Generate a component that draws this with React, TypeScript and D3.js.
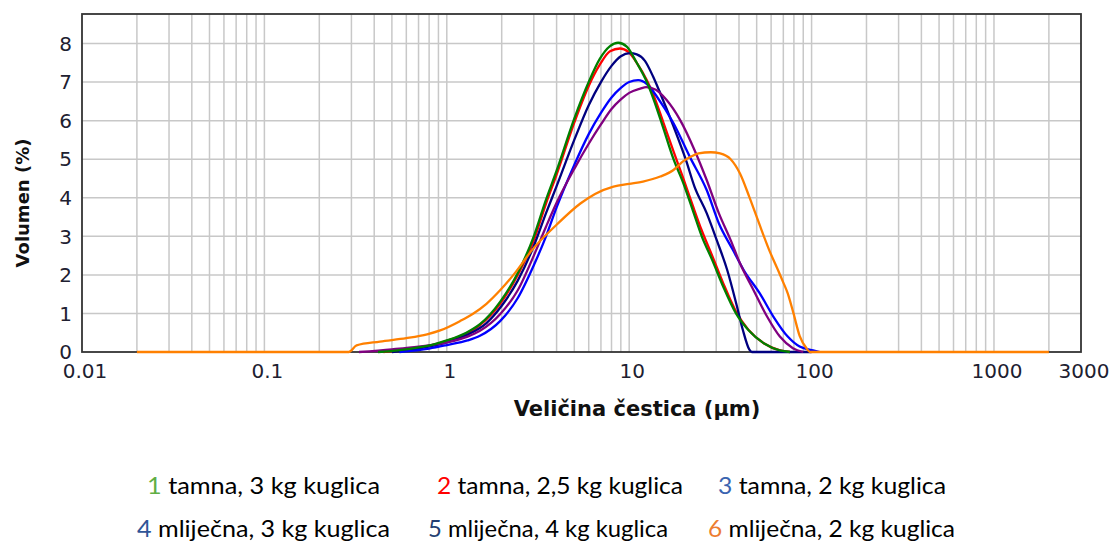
import React from "react";
import * as d3 from "d3";

// ---- data: [particle size (µm), volume (%)] ----
const series1: [number, number][] = [[0.42,0],[0.55,0.05],[0.7,0.12],[0.85,0.2],[1.0,0.3],[1.28,0.5],[1.52,0.72],[1.96,1.3],[2.45,2.05],[3.0,3.0],[3.5,3.95],[4.0,4.7],[5.0,6.05],[6.0,7.0],[6.9,7.6],[7.85,7.93],[8.7,8.02],[9.7,7.92],[11,7.5],[12.5,7.0],[13.5,6.6],[15.4,5.8],[17.5,5.0],[19.8,4.38],[22.3,3.68],[25,3.0],[28.5,2.39],[32.8,1.69],[38.5,1.0],[45,0.57],[55,0.22],[67,0.04],[76,0]];
const series2: [number, number][] = [[0.45,0],[0.55,0.04],[0.7,0.11],[0.85,0.19],[1.0,0.29],[1.28,0.48],[1.52,0.7],[1.96,1.25],[2.45,2.0],[3.0,2.9],[3.5,3.85],[4.0,4.6],[5.0,5.95],[6.0,6.9],[6.9,7.45],[7.85,7.8],[8.9,7.87],[9.9,7.78],[11,7.5],[12.5,7.05],[13.5,6.7],[15.4,5.95],[17.5,5.2],[19.8,4.5],[22.3,3.8],[25,3.15],[28.5,2.5],[32.8,1.78],[38.5,1.05],[45,0.58],[55,0.22],[67,0.04],[76,0]];
const series3: [number, number][] = [[0.5,0],[0.7,0.09],[1.0,0.25],[1.3,0.45],[1.65,0.75],[2.0,1.2],[2.45,1.85],[3.0,2.75],[3.5,3.6],[4.0,4.3],[5.0,5.5],[6.0,6.4],[7,7.0],[8,7.42],[9,7.67],[10.1,7.75],[11,7.72],[12.2,7.55],[13.5,7.15],[14.8,6.71],[17.5,5.85],[20.4,5.0],[22.8,4.29],[26.6,3.6],[30.2,2.9],[34.5,2.12],[39,1.18],[42,0.57],[45.6,0.06],[47,0],[100,0]];
const series4: [number, number][] = [[0.55,0],[0.8,0.09],[1.0,0.18],[1.3,0.3],[1.52,0.42],[1.96,0.8],[2.45,1.4],[3.0,2.25],[3.5,3.0],[4,3.75],[5,4.85],[6,5.65],[7,6.2],[8,6.6],[9,6.85],[10,7.0],[11.2,7.05],[12.5,6.95],[14.2,6.62],[17.5,5.93],[21.5,5.06],[26.6,4.2],[31,3.34],[37,2.65],[42.5,2.12],[52,1.52],[61.7,0.92],[74,0.4],[86,0.14],[102,0.04],[111,0]];
const series5: [number, number][] = [[0.33,0],[0.5,0.07],[0.7,0.14],[1.0,0.25],[1.3,0.4],[1.52,0.55],[1.96,0.98],[2.45,1.6],[3.0,2.5],[3.5,3.25],[4,3.87],[5,4.75],[6,5.4],[7,5.9],[8,6.3],[9,6.55],[10,6.72],[11.5,6.83],[12.4,6.87],[14,6.8],[16,6.54],[19,6.02],[22.8,5.24],[26.6,4.46],[31,3.6],[36,2.9],[40.5,2.3],[48,1.61],[57,0.92],[67,0.4],[79,0.1],[90,0]];
const series6: [number, number][] = [[0.02,0],[0.29,0],[0.32,0.17],[0.43,0.27],[0.6,0.36],[0.78,0.46],[0.92,0.56],[1.18,0.8],[1.4,1.0],[1.65,1.25],[1.96,1.6],[2.32,2.0],[3.0,2.7],[4.0,3.3],[5.4,3.85],[6.5,4.1],[8.2,4.29],[10,4.36],[11.9,4.42],[14.8,4.55],[17.5,4.72],[19.8,4.95],[21.5,5.05],[24,5.15],[28,5.18],[31.5,5.15],[36,5.0],[40.5,4.63],[45.5,4.03],[51.5,3.34],[58.5,2.65],[66.5,2.05],[70,1.8],[74,1.52],[79.4,1.02],[86,0.42],[94,0.09],[98,0],[2000,0]];

const xTicks = [0.01, 0.1, 1, 10, 100, 1000, 3000];
const yTicks = [0, 1, 2, 3, 4, 5, 6, 7, 8];
const lineColors = ["#008000", "#FF0000", "#000080", "#0000FF", "#800080", "#FF8000"];
const legendNums = ["1", "2", "3", "4", "5", "6"];
const legendTexts = [
  " tamna, 3 kg kuglica",
  " tamna, 2,5 kg kuglica",
  " tamna, 2 kg kuglica",
  " mliječna, 3 kg kuglica",
  " mliječna, 4 kg kuglica",
  " mliječna, 2 kg kuglica",
];
const legendNumColors = ["#5FAE45", "#FF0000", "#3A64B0", "#2F5597", "#243F72", "#ED7D31"];

export default function App() {
  const W = 1113, H = 544;
  const left = 82, right = 1081, top = 14, bottom = 352;
  const x = d3.scaleLog().domain([0.01, 3000]).range([left, right]);
  const y = d3.scaleLinear().domain([0, 8]).range([bottom, 43.5]);

  const vGrid: number[] = [];
  for (let dec = 0.01; dec <= 1000; dec *= 10) {
    for (let m = 1; m <= 9; m++) {
      const v = +(m * dec).toPrecision(3);
      if (v > 0.01 && v < 3000) vGrid.push(v);
    }
  }

  const line = d3
    .line<[number, number]>()
    .x((d) => x(d[0]))
    .y((d) => y(d[1]))
    .curve(d3.curveMonotoneX);

  const allSeries = [series1, series2, series3, series4, series5, series6];
  const drawOrder = [1, 2, 3, 4, 0, 5];

  const legendPos = [
    { x: 147, y: 494, len: 233 },
    { x: 437, y: 494, len: 246 },
    { x: 718, y: 494, len: 228 },
    { x: 137, y: 537, len: 253 },
    { x: 428, y: 537, len: 240 },
    { x: 708, y: 537, len: 247 },
  ];

  return (
    <div style={{ position: "absolute", left: 0, top: 0 }}>
      <svg width={W} height={H} style={{ display: "block", background: "#fff" }}>
        <rect x={0} y={0} width={W} height={H} fill="#fff" />
        {/* grid */}
        {vGrid.map((v) => (
          <line key={"v" + v} x1={x(v)} x2={x(v)} y1={top} y2={bottom} stroke="#c8c8c8" strokeWidth={1.5} />
        ))}
        {yTicks.filter((t) => t > 0).map((t) => (
          <line key={"h" + t} x1={left} x2={right} y1={y(t)} y2={y(t)} stroke="#c8c8c8" strokeWidth={1.5} />
        ))}
        {/* frame */}
        <rect x={left} y={top} width={right - left} height={bottom - top} fill="none" stroke="#333" strokeWidth={1.8} />
        {/* curves */}
        {drawOrder.map((i) => (
          <path key={"s" + i} d={line(allSeries[i]) || ""} fill="none" stroke={lineColors[i]} strokeWidth={2.3} strokeLinejoin="round" />
        ))}
        {/* y tick labels */}
        {yTicks.map((t) => (
          <text key={"yt" + t} x={72} y={y(t)} dy="0.36em" textAnchor="end" fontFamily="DejaVu Sans" fontSize={20} fill="#202030">
            {t}
          </text>
        ))}
        {/* x tick labels */}
        {xTicks.map((t) => (
          <text key={"xt" + t} x={x(t) + 3} y={378} textAnchor="middle" fontFamily="DejaVu Sans" fontSize={20} fill="#202030">
            {t}
          </text>
        ))}
        {/* axis titles */}
        <text x={637} y={416} textAnchor="middle" fontFamily="DejaVu Sans" fontWeight="bold" fontSize={21} fill="#111">
          Veličina čestica (μm)
        </text>
        <text transform="translate(29,203) rotate(-90)" textAnchor="middle" fontFamily="DejaVu Sans" fontWeight="bold" fontSize={18} fill="#111">
          Volumen (%)
        </text>
        {/* legend */}
        {legendPos.map((p, i) => (
          <text key={"lg" + i} x={p.x} y={p.y} fontFamily="Lato" fontSize={24} fill="#000" textLength={p.len} lengthAdjust="spacingAndGlyphs">
            <tspan fill={legendNumColors[i]}>{legendNums[i]}</tspan>
            {legendTexts[i]}
          </text>
        ))}
      </svg>
    </div>
  );
}
